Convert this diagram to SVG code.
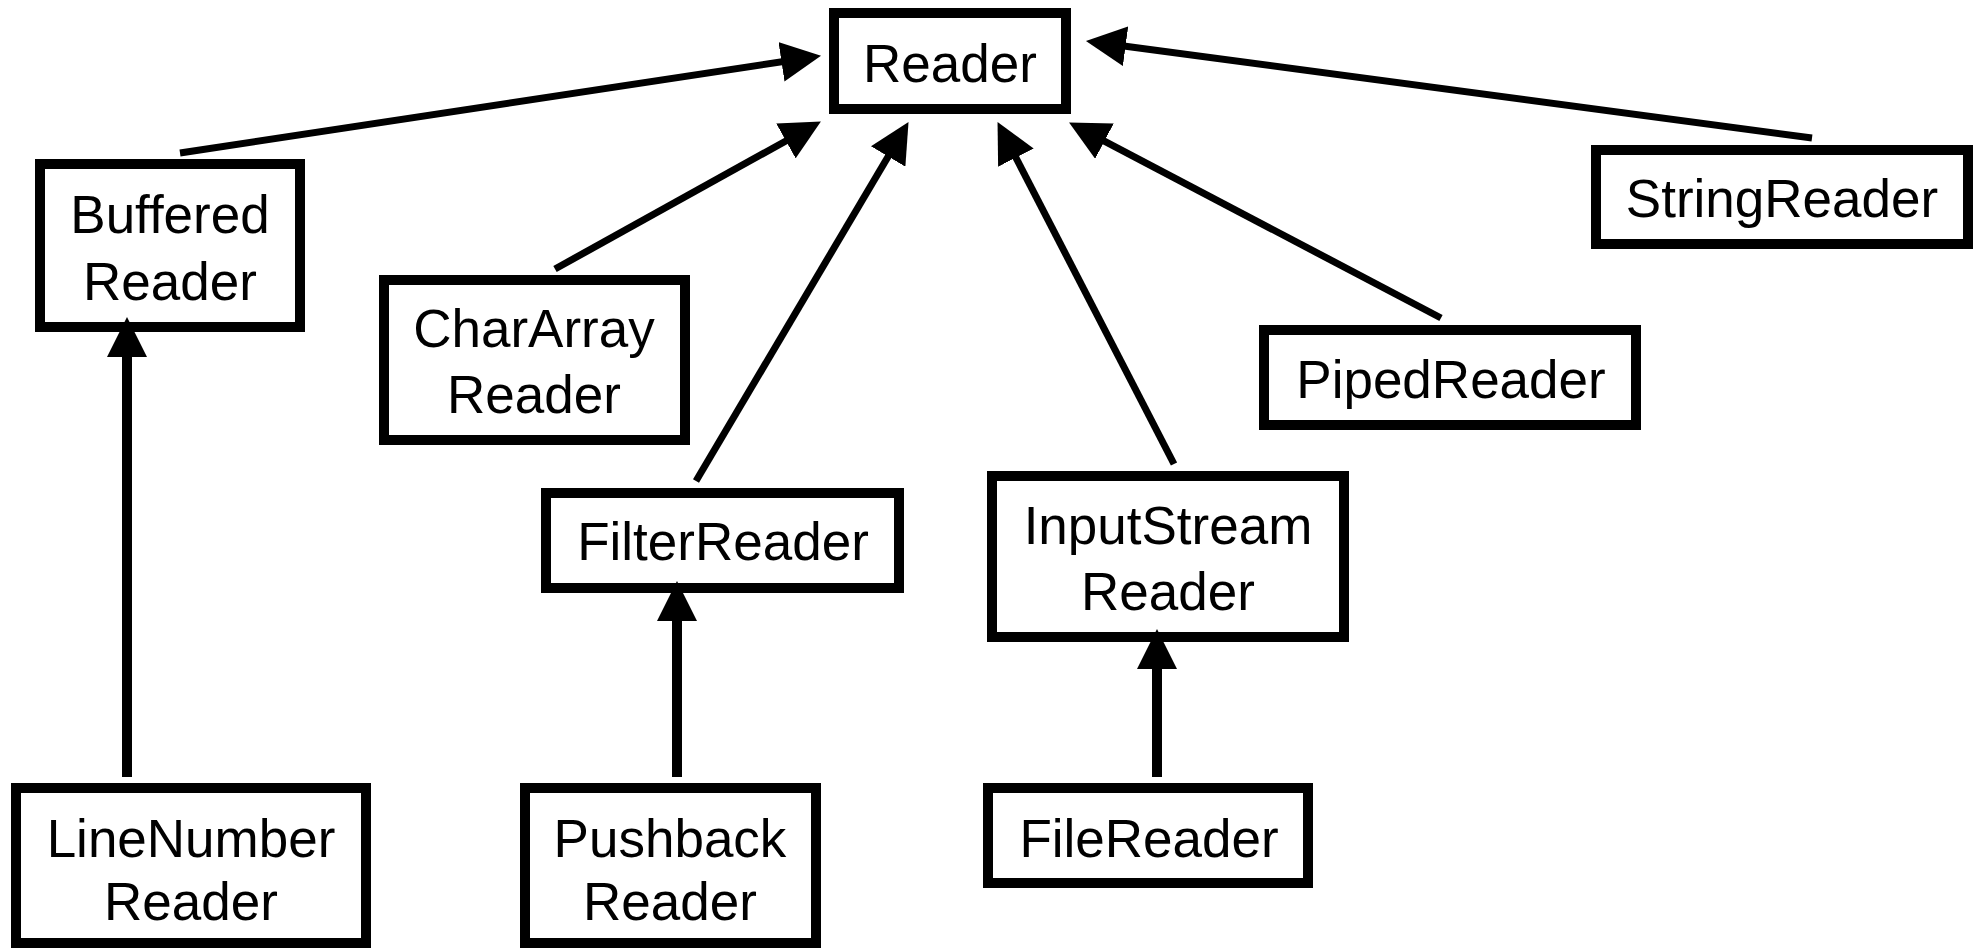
<svg xmlns="http://www.w3.org/2000/svg" width="1980" height="950" viewBox="0 0 1980 950">
<style>
.box{fill:#fff;stroke:#000;stroke-width:10}
.lbl{font-family:"Liberation Sans",Arial,sans-serif;font-size:53px;fill:#000;text-anchor:middle}
.diag{stroke:#000;stroke-width:7;fill:none;marker-end:url(#ah)}
.vert{stroke:#000;stroke-width:10;fill:none;marker-end:url(#ah)}
</style>
<defs>
<marker id="ah" markerUnits="userSpaceOnUse" markerWidth="40" markerHeight="40" refX="18" refY="19" orient="auto" viewBox="0 0 38 38">
<path d="M0,0 L38,19 L0,38 z" fill="#000"/>
</marker>
</defs>
<rect width="1980" height="950" fill="#fff"/>
<g id="connectors">
<line class="diag" x1="180" y1="153" x2="800.2" y2="59"/>
<line class="diag" x1="555" y1="269" x2="802.5" y2="131.7"/>
<line class="diag" x1="696" y1="481" x2="897.8" y2="140.2"/>
<line class="diag" x1="1174" y1="464" x2="1007.2" y2="140.8"/>
<line class="diag" x1="1441" y1="318" x2="1087.7" y2="132.3"/>
<line class="diag" x1="1812" y1="138" x2="1106.8" y2="43.7"/>
</g>
<g id="Reader"><rect class="box" x="834" y="13" width="232" height="96"/><text class="lbl" x="950" y="82">Reader</text></g>
<g id="BufferedReader"><rect class="box" x="40" y="164" width="260" height="163"/><text class="lbl" x="170" y="233">Buffered</text><text class="lbl" x="170" y="300">Reader</text></g>
<g id="CharArrayReader"><rect class="box" x="384" y="280" width="301" height="160"/><text class="lbl" x="534" y="347">CharArray</text><text class="lbl" x="534" y="413">Reader</text></g>
<g id="StringReader"><rect class="box" x="1596" y="150" width="372" height="94"/><text class="lbl" x="1782" y="217">StringReader</text></g>
<g id="PipedReader"><rect class="box" x="1264" y="330" width="372" height="95"/><text class="lbl" x="1451" y="398">PipedReader</text></g>
<g id="FilterReader"><rect class="box" x="546" y="493" width="353" height="95"/><text class="lbl" x="723" y="560">FilterReader</text></g>
<g id="InputStreamReader"><rect class="box" x="992" y="476" width="352" height="161"/><text class="lbl" x="1168" y="544">InputStream</text><text class="lbl" x="1168" y="610">Reader</text></g>
<g id="LineNumberReader"><rect class="box" x="16" y="788" width="350" height="155"/><text class="lbl" x="191" y="857">LineNumber</text><text class="lbl" x="191" y="920">Reader</text></g>
<g id="PushbackReader"><rect class="box" x="525" y="788" width="291" height="155"/><text class="lbl" x="670" y="857">Pushback</text><text class="lbl" x="670" y="920">Reader</text></g>
<g id="FileReader"><rect class="box" x="988" y="788" width="320" height="95"/><text class="lbl" x="1149" y="857">FileReader</text></g>
<g id="connectors-vertical">
<line class="vert" x1="127" y1="777" x2="127" y2="338"/>
<line class="vert" x1="677" y1="777" x2="677" y2="602"/>
<line class="vert" x1="1157" y1="777" x2="1157" y2="650"/>
</g>
</svg>
